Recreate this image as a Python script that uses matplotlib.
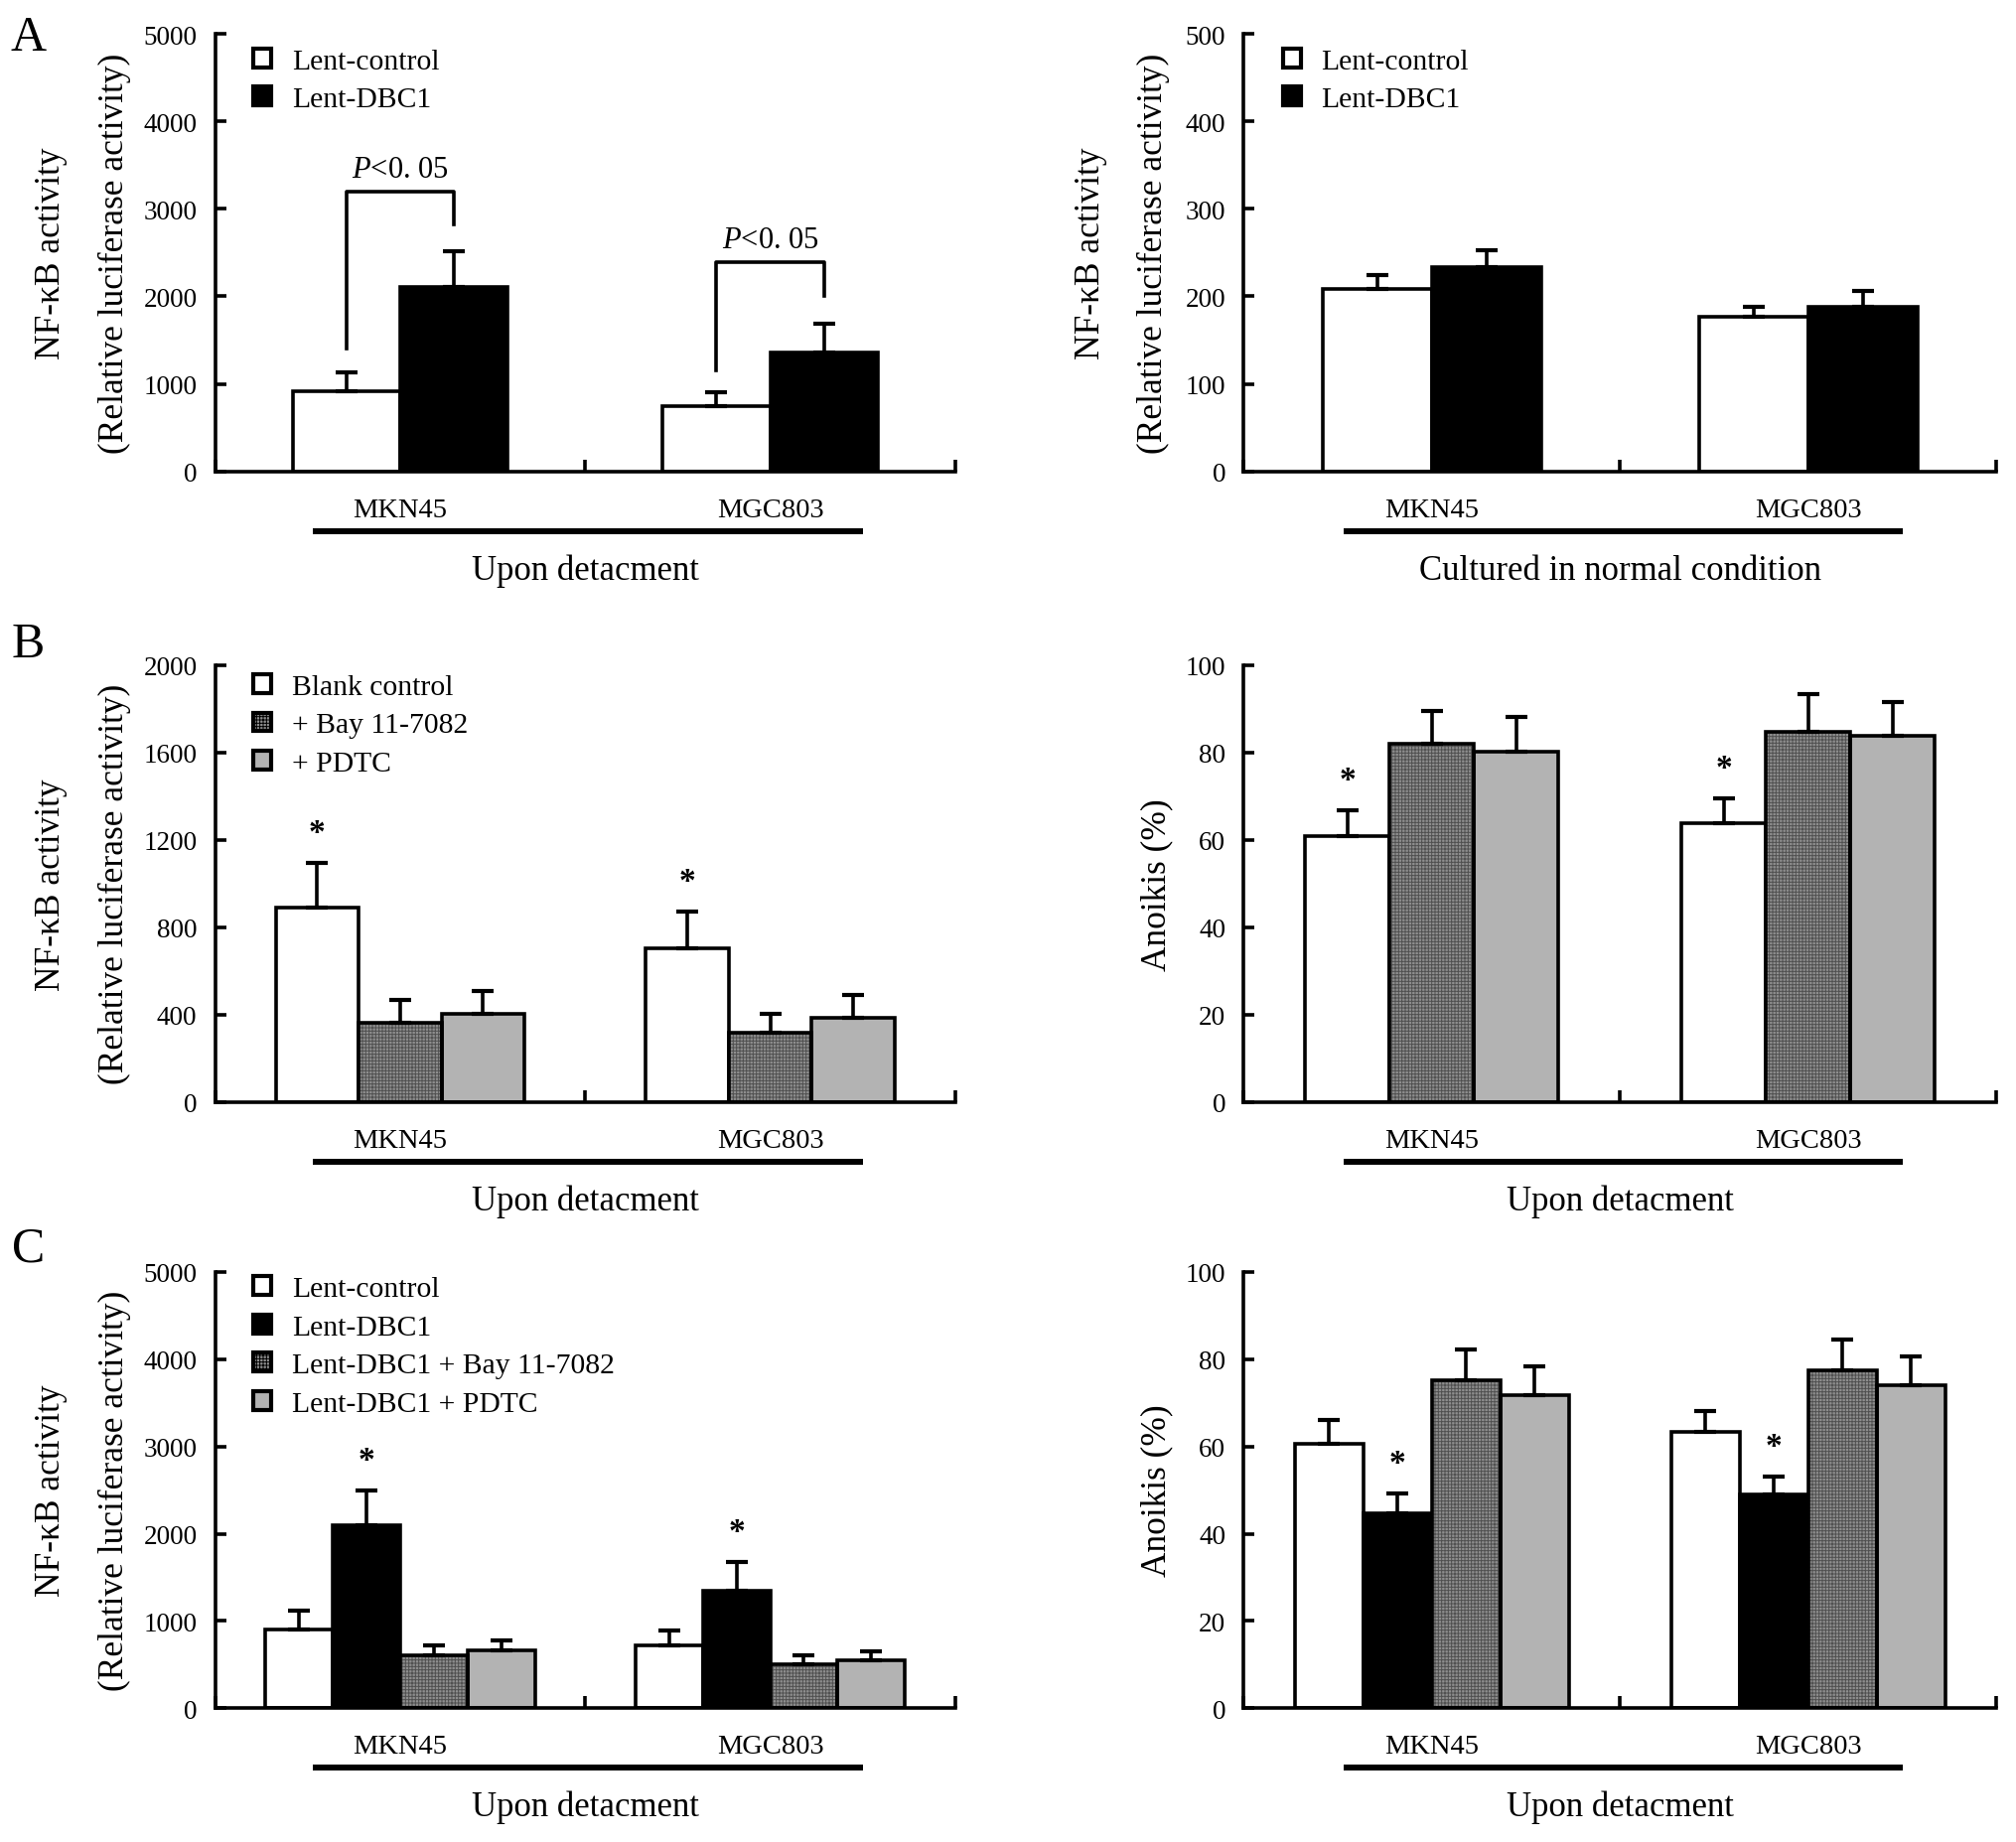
import matplotlib
matplotlib.use('Agg')

import matplotlib.pyplot as plt
import matplotlib.transforms as mtransforms
from matplotlib.patches import Patch

plt.rcParams['font.family'] = ['Liberation Serif', 'DejaVu Serif']
plt.rcParams['mathtext.fontset'] = 'custom'
plt.rcParams['mathtext.rm'] = 'Liberation Serif'
plt.rcParams['mathtext.it'] = 'Liberation Serif:italic'
plt.rcParams['hatch.linewidth'] = 0.7

cells = ['MKN45', 'MGC803']

# A: luciferase upon detachment / normal culture
a_labels = ['Lent-control', 'Lent-DBC1']
a_kinds = ['white', 'black']
a1_mean = [[911, 742], [2102, 1356]]
a1_err = [[222, 160], [409, 328]]
a1_bracket_top = [3200, 2391]
a1_bracket_left = [1400, 1156]
a1_bracket_right = [2822, 2000]
a2_mean = [[208, 177], [233, 188]]
a2_err = [[16, 11], [20, 18]]

# B: inhibitors
b_labels = ['Blank control', '+ Bay 11-7082', '+ PDTC']
b_kinds = ['white', 'hatch', 'gray']
b1_mean = [[889, 702], [361, 316], [405, 386]]
b1_err = [[204, 169], [105, 89], [105, 106]]
b1_star = [True, False, False]
b2_mean = [[60.8, 63.9], [82.0, 84.7], [80.2, 83.7]]
b2_err = [[6.0, 5.6], [7.4, 8.7], [7.9, 7.9]]
b2_star = [True, False, False]

# C: DBC1 + inhibitors
c_labels = ['Lent-control', 'Lent-DBC1', 'Lent-DBC1 + Bay 11-7082', 'Lent-DBC1 + PDTC']
c_kinds = ['white', 'black', 'hatch', 'gray']
c1_mean = [[900, 722], [2094, 1346], [610, 504], [660, 544]]
c1_err = [[214, 169], [402, 325], [112, 106], [120, 111]]
c1_star = [False, True, False, False]
c2_mean = [[60.6, 63.3], [44.6, 49.0], [75.2, 77.4], [71.7, 74.0]]
c2_err = [[5.5, 4.9], [4.6, 4.0], [7.0, 7.0], [6.6, 6.7]]
c2_star = [False, True, False, False]

STYLE = {
    'white': dict(facecolor='white', hatch=None),
    'black': dict(facecolor='black', hatch=None),
    'hatch': dict(facecolor='#8e8e8e', hatch='+++++'),
    'gray': dict(facecolor='#b3b3b3', hatch=None),
}
HATCH_COLOR = '#505050'
LW = 2.6


def draw_panel(ax, means, errs, kinds, width, ymax, step, ylab, xlab,
               ylab_x, legend=None, legend_y=0.975, stars=None):
    n = len(means)
    trans = mtransforms.blended_transform_factory(ax.transData, ax.transAxes)
    for i, (m, e, k) in enumerate(zip(means, errs, kinds)):
        xs = [c + 0.5 + (i - (n - 1) / 2) * width for c in range(2)]
        st = STYLE[k]
        if st['hatch']:
            # hatch drawn in its own grey, outline on top in black
            ax.bar(xs, m, width=width, color=st['facecolor'], hatch=st['hatch'],
                   edgecolor=HATCH_COLOR, linewidth=0, zorder=2)
            ax.bar(xs, m, width=width, fill=False, edgecolor='black',
                   linewidth=LW, zorder=2.1)
        else:
            ax.bar(xs, m, width=width, color=st['facecolor'],
                   edgecolor='black', linewidth=LW, zorder=2)
        ax.errorbar(xs, m, yerr=[[0, 0], e], fmt='none', ecolor='black',
                    elinewidth=LW, capsize=8, capthick=3, zorder=3)
        if stars is not None and stars[i]:
            for x, mv, ev in zip(xs, m, e):
                ax.text(x, mv + ev + 0.07 * ymax, '*', ha='center', va='center',
                        fontsize=24, fontweight='bold')

    ax.set_xlim(0, 2)
    ax.set_ylim(0, ymax)
    ax.set_yticks(range(0, int(ymax) + 1, step))
    ax.set_xticks([0, 1, 2])
    ax.set_xticklabels([])
    for s in ['top', 'right']:
        ax.spines[s].set_visible(False)
    for s in ['left', 'bottom']:
        ax.spines[s].set_linewidth(LW)
    ax.tick_params(axis='y', direction='in', length=8, width=LW,
                   labelsize=19.5, pad=13)
    ax.tick_params(axis='x', direction='in', length=9, width=LW)

    for c, name in enumerate(cells):
        ax.text(c + 0.5, -0.087, name, transform=trans, ha='center',
                va='center', fontsize=20.5)
    ax.plot([0.265, 1.75], [-0.137, -0.137], transform=trans, color='black',
            lw=4.3, solid_capstyle='butt', clip_on=False)
    ax.text(1.0, -0.226, xlab, transform=trans, ha='center', va='center',
            fontsize=25)

    for txt, xp in zip(ylab, ylab_x):
        ax.text(xp, 0.5, txt, transform=ax.transAxes, rotation=90,
                ha='center', va='center', fontsize=25.5)

    if legend is not None:
        handles = []
        for k in kinds:
            st = STYLE[k]
            handles.append(Patch(facecolor=st['facecolor'], hatch=st['hatch'],
                                 edgecolor='black', linewidth=3))
        ax.legend(handles, legend, loc='upper left', bbox_to_anchor=(0.052, legend_y),
                  frameon=False, fontsize=21.3, handlelength=0.61, handleheight=0.61,
                  handletextpad=0.7, labelspacing=0.42, borderpad=0,
                  borderaxespad=0)


fig = plt.figure(figsize=(20.31, 18.56), dpi=100)
lx, lw = 0.1066, 0.367
rx, rw = 0.6165, 0.3733
rows = [(0.7437, 0.2374), (0.4015, 0.2371), (0.0726, 0.2367)]

nfkb = ['NF-κB activity', '(Relative luciferase activity)']

ax = fig.add_axes([lx, rows[0][0], lw, rows[0][1]])
draw_panel(ax, a1_mean, a1_err, a_kinds, 0.29, 5000, 1000, nfkb,
           'Upon detacment', [-0.222, -0.136], legend=a_labels, legend_y=0.967)
# significance brackets
for c in range(2):
    xl = c + 0.5 - 0.145
    xr = c + 0.5 + 0.145
    top = a1_bracket_top[c]
    ax.plot([xl, xl, xr, xr], [a1_bracket_left[c], top, top, a1_bracket_right[c]],
            color='black', lw=LW, zorder=4)
    ax.text(c + 0.5, top + 0.05 * 5000, '$P$<0. 05', ha='center', va='center',
            fontsize=22)

ax = fig.add_axes([rx, rows[0][0], rw, rows[0][1]])
draw_panel(ax, a2_mean, a2_err, a_kinds, 0.29, 500, 100, nfkb,
           'Cultured in normal condition', [-0.202, -0.12], legend=a_labels,
           legend_y=0.967)

ax = fig.add_axes([lx, rows[1][0], lw, rows[1][1]])
draw_panel(ax, b1_mean, b1_err, b_kinds, 0.224, 2000, 400, nfkb,
           'Upon detacment', [-0.222, -0.136], legend=b_labels, legend_y=0.979,
           stars=b1_star)

ax = fig.add_axes([rx, rows[1][0], rw, rows[1][1]])
draw_panel(ax, b2_mean, b2_err, b_kinds, 0.224, 100, 20, ['Anoikis (%)'],
           'Upon detacment', [-0.115], stars=b2_star)

ax = fig.add_axes([lx, rows[2][0], lw, rows[2][1]])
draw_panel(ax, c1_mean, c1_err, c_kinds, 0.182, 5000, 1000, nfkb,
           'Upon detacment', [-0.222, -0.136], legend=c_labels, legend_y=0.99,
           stars=c1_star)

ax = fig.add_axes([rx, rows[2][0], rw, rows[2][1]])
draw_panel(ax, c2_mean, c2_err, c_kinds, 0.182, 100, 20, ['Anoikis (%)'],
           'Upon detacment', [-0.115], stars=c2_star)

for letter, yp in zip(['A', 'B', 'C'], [0.979, 0.650, 0.322]):
    fig.text(0.014, yp, letter, ha='center', va='center', fontsize=36)

fig.savefig('out.png', dpi=100, facecolor='white')
